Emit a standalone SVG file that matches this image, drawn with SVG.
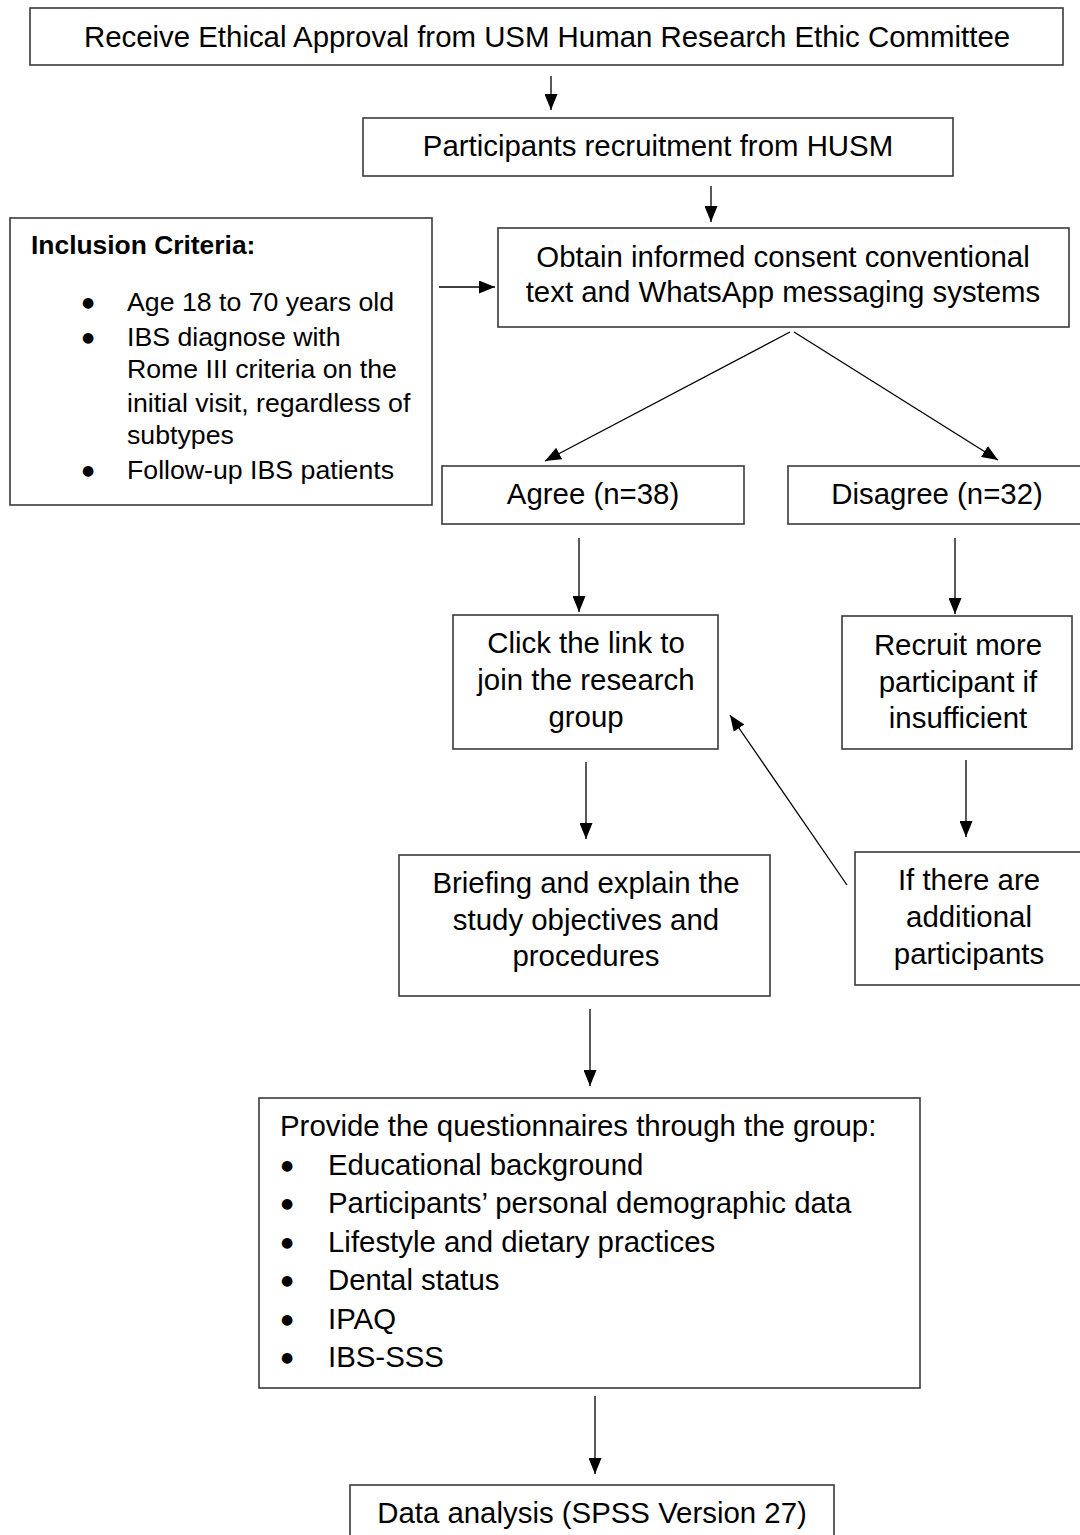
<svg xmlns="http://www.w3.org/2000/svg" width="1080" height="1535" viewBox="0 0 1080 1535">
<style>
.box{fill:#fff;stroke:#3a3a3a;stroke-width:1.6}
.t{font-family:"Liberation Sans",Arial,sans-serif;font-size:29.4px;fill:#000}
.c{text-anchor:middle}
.s{font-family:"Liberation Sans",Arial,sans-serif;font-size:26.7px;fill:#000}
.b{font-family:"Liberation Sans",Arial,sans-serif;font-size:26.4px;font-weight:bold;fill:#000}
.bu{font-family:"DejaVu Sans",sans-serif;font-size:14px;fill:#000;text-anchor:middle}
.ln{stroke:#000;stroke-width:1.3;fill:none;marker-end:url(#ah)}
</style>
<defs>
<marker id="ah" markerUnits="userSpaceOnUse" markerWidth="16" markerHeight="13" refX="16" refY="6.5" orient="auto">
<path d="M0,0 L16,6.5 L0,13 z" fill="#000"/>
</marker>
</defs>
<rect width="1080" height="1535" fill="#fff"/>

<g id="connectors">
<line class="ln" x1="551" y1="76" x2="551" y2="110"/>
<line class="ln" x1="711" y1="186" x2="711" y2="222"/>
<line class="ln" x1="439" y1="287" x2="495" y2="287"/>
<line class="ln" x1="790" y1="332" x2="545" y2="461"/>
<line class="ln" x1="794" y1="332" x2="998" y2="460"/>
<line class="ln" x1="579" y1="538" x2="579" y2="612"/>
<line class="ln" x1="955" y1="538" x2="955" y2="614"/>
<line class="ln" x1="586" y1="762" x2="586" y2="839"/>
<line class="ln" x1="966" y1="760" x2="966" y2="837"/>
<line class="ln" x1="847" y1="885" x2="730" y2="715"/>
<line class="ln" x1="590" y1="1009" x2="590" y2="1086"/>
<line class="ln" x1="595" y1="1396" x2="595" y2="1474"/>
</g>

<g id="n-ethics">
<rect class="box" x="30" y="8" width="1033" height="57"/>
<text class="t c" x="547" y="47">Receive Ethical Approval from USM Human Research Ethic Committee</text>
</g>

<g id="n-recruit">
<rect class="box" x="363" y="118" width="590" height="58"/>
<text class="t c" x="658" y="156">Participants recruitment from HUSM</text>
</g>

<g id="n-inclusion">
<rect class="box" x="10" y="218" width="422" height="287"/>
<text class="b" x="31" y="254">Inclusion Criteria:</text>
<text class="bu" x="88" y="307">●</text>
<text class="s" x="127" y="311">Age 18 to 70 years old</text>
<text class="bu" x="88" y="342">●</text>
<text class="s" x="127" y="346">IBS diagnose with</text>
<text class="s" x="127" y="378">Rome III criteria on the</text>
<text class="s" x="127" y="412">initial visit, regardless of</text>
<text class="s" x="127" y="444">subtypes</text>
<text class="bu" x="88" y="475">●</text>
<text class="s" x="127" y="479">Follow-up IBS patients</text>
</g>

<g id="n-consent">
<rect class="box" x="498" y="228" width="571" height="99"/>
<text class="t c" x="783" y="267">Obtain informed consent conventional</text>
<text class="t c" x="783" y="302">text and WhatsApp messaging systems</text>
</g>

<g id="n-agree">
<rect class="box" x="442" y="466" width="302" height="58"/>
<text class="t c" x="593" y="504">Agree (n=38)</text>
</g>

<g id="n-disagree">
<rect class="box" x="788" y="466" width="300" height="58"/>
<text class="t c" x="937" y="504">Disagree (n=32)</text>
</g>

<g id="n-click">
<rect class="box" x="453" y="615" width="265" height="134"/>
<text class="t c" x="586" y="653">Click the link to</text>
<text class="t c" x="586" y="690">join the research</text>
<text class="t c" x="586" y="727">group</text>
</g>

<g id="n-more">
<rect class="box" x="842" y="616" width="230" height="133"/>
<text class="t c" x="958" y="655">Recruit more</text>
<text class="t c" x="958" y="692">participant if</text>
<text class="t c" x="958" y="728">insufficient</text>
</g>

<g id="n-briefing">
<rect class="box" x="399" y="855" width="371" height="141"/>
<text class="t c" x="586" y="893">Briefing and explain the</text>
<text class="t c" x="586" y="930">study objectives and</text>
<text class="t c" x="586" y="966">procedures</text>
</g>

<g id="n-additional">
<rect class="box" x="855" y="852" width="240" height="133"/>
<text class="t c" x="969" y="890">If there are</text>
<text class="t c" x="969" y="927">additional</text>
<text class="t c" x="969" y="964">participants</text>
</g>

<g id="n-questionnaires">
<rect class="box" x="259" y="1098" width="661" height="290"/>
<text class="t" x="280" y="1136">Provide the questionnaires through the group:</text>
<text class="bu" x="287" y="1170">●</text>
<text class="t" x="328" y="1175">Educational background</text>
<text class="bu" x="287" y="1208">●</text>
<text class="t" x="328" y="1213">Participants’ personal demographic data</text>
<text class="bu" x="287" y="1247">●</text>
<text class="t" x="328" y="1252">Lifestyle and dietary practices</text>
<text class="bu" x="287" y="1285">●</text>
<text class="t" x="328" y="1290">Dental status</text>
<text class="bu" x="287" y="1324">●</text>
<text class="t" x="328" y="1329">IPAQ</text>
<text class="bu" x="287" y="1362">●</text>
<text class="t" x="328" y="1367">IBS-SSS</text>
</g>

<g id="n-analysis">
<rect class="box" x="350" y="1485" width="484" height="70"/>
<text class="t c" x="592" y="1523">Data analysis (SPSS Version 27)</text>
</g>
</svg>
